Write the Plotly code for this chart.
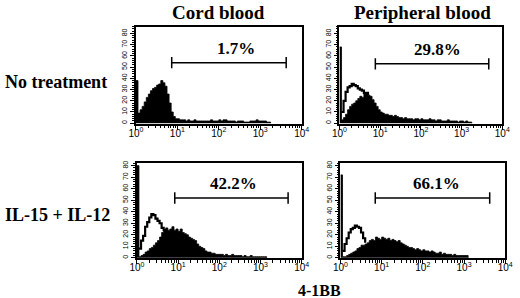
import plotly.graph_objects as go

# ---------------- data (counts per channel, 20 channels per decade, starting at 10^0) ----------
cb_none_filled = [38, 9, 12, 15, 19, 23, 26, 29, 31, 32, 34, 35, 38, 36, 33, 26, 18, 10, 6, 4,
                  4, 3, 3, 3, 2, 3, 2, 2, 3, 2, 2, 2, 2, 2, 2, 2, 3, 2, 2, 2,
                  3, 2, 3, 3, 2, 2, 2, 2, 1, 2, 2, 2, 1, 1, 1, 2, 2, 2, 3, 2,
                  2, 2, 2, 1, 1, 0]

pb_none_filled = [68, 3, 5, 8, 12, 15, 17, 18, 20, 22, 24, 23, 26, 27, 25, 24, 21, 18, 15, 12,
                  10, 9, 8, 8, 7, 7, 6, 7, 6, 5, 5, 4, 5, 4, 4, 4, 3, 4, 4, 3,
                  4, 3, 3, 3, 4, 3, 3, 2, 3, 3, 2, 2, 2, 3, 2, 2, 2, 2, 1, 2,
                  2, 1, 2, 1, 1, 0]
pb_none_open = [None, 10, 20, 28, 32, 33, 35, 34, 33, 31, 30, 29, 27, 27, 25]

cb_il_filled = [80, 1, 2, 3, 5, 6, 8, 9, 11, 13, 15, 18, 22, 24, 26, 24, 25, 27, 24, 25,
                23, 25, 22, 21, 20, 18, 17, 16, 15, 12, 10, 9, 8, 6, 5, 5, 4, 4, 3, 3,
                3, 3, 2, 3, 2, 2, 3, 2, 2, 2, 2, 1, 2, 1, 1, 2, 1, 1, 1, 1,
                1, 1, 1, 0]
cb_il_open = [None, 8, 15, 19, 27, 31, 35, 38, 37, 34, 32, 30, 26, 24, 22]

pb_il_filled = [72, 1, 1, 2, 3, 4, 5, 6, 8, 9, 11, 11, 12, 13, 15, 16, 15, 18, 17, 16,
                18, 17, 16, 17, 15, 16, 15, 14, 15, 13, 12, 11, 10, 9, 9, 8, 7, 8, 7, 6,
                7, 6, 6, 5, 6, 5, 4, 4, 5, 3, 4, 3, 3, 3, 2, 3, 2, 2, 2, 2,
                2, 2, 0]
pb_il_open = [None, 6, 12, 17, 22, 25, 26, 28, 27, 26, 22, 17, 13]

CH_PER_DECADE = 20

gate_lo = [7.3, 7.6, 8.3, 7.0]
gate_hi = [4230, 4650, 4680, 4200]
gate_y = [54, 53, 52, 52]
gate_pct = ["1.7%", "29.8%", "42.2%", "66.1%"]
gate_label_x = [2.42, 2.40, 2.35, 2.33]   # log10 position of label centre

col_titles = ["Cord blood", "Peripheral blood"]
row_titles = ["No treatment", "IL-15 + IL-12"]
x_title = "4-1BB"
x_tickvals = [1, 10, 100, 1000, 10000]
x_ticktext = ["10<sup>0</sup>", "10<sup>1</sup>", "10<sup>2</sup>", "10<sup>3</sup>", "10<sup>4</sup>"]
x_minor = [m * 10 ** d for d in range(4) for m in range(2, 10)]
y_tickvals = [0, 10, 20, 30, 40, 50, 60, 70, 80]

panels = [
    (cb_none_filled, None),
    (pb_none_filled, pb_none_open),
    (cb_il_filled, cb_il_open),
    (pb_il_filled, pb_il_open),
]

W, H = 520, 298
# pixel boxes: (left, right, top, bottom)
boxes = [(132, 303, 24, 122), (342, 510, 24, 122), (133, 303, 162, 258), (343, 513, 162, 258)]
yranges = [[-0.5, 86], [-0.5, 86], [-0.5, 82], [-0.5, 82]]

fig = go.Figure()
SERIF = "Liberation Serif, Times New Roman, serif"
SANS = "Liberation Sans, Arial, sans-serif"

for k, (filled, opn) in enumerate(panels):
    xs = "x" if k == 0 else f"x{k+1}"
    ys = "y" if k == 0 else f"y{k+1}"
    xv = [10 ** (i / CH_PER_DECADE) for i in range(len(filled))]
    fig.add_trace(go.Scatter(x=xv, y=filled, mode="lines", line=dict(color="black", width=0.8, shape="hv"),
                             fill="tozeroy", fillcolor="black", xaxis=xs, yaxis=ys, showlegend=False,
                             hoverinfo="skip"))
    if opn is not None:
        xo = [10 ** (i / CH_PER_DECADE) for i in range(len(opn))]
        fig.add_trace(go.Scatter(x=xo, y=opn, mode="lines", line=dict(color="black", width=2.2, shape="hv"),
                                 xaxis=xs, yaxis=ys, showlegend=False, hoverinfo="skip"))
    # gate bar
    lo, hi, gy = gate_lo[k], gate_hi[k], gate_y[k]
    cap = 5
    fig.add_trace(go.Scatter(x=[lo, hi, None, lo, lo, None, hi, hi],
                             y=[gy, gy, None, gy - cap, gy + cap, None, gy - cap, gy + cap],
                             mode="lines", line=dict(color="black", width=1.5), xaxis=xs, yaxis=ys,
                             showlegend=False, hoverinfo="skip"))
    fig.add_annotation(x=gate_label_x[k], y=gy + 2.5, xref=xs, yref=ys, text=f"<b>{gate_pct[k]}</b>",
                       showarrow=False, yanchor="bottom", font=dict(family=SERIF, size=17, color="black"))

    l, r, t, b = boxes[k]
    xkey = "xaxis" if k == 0 else f"xaxis{k+1}"
    ykey = "yaxis" if k == 0 else f"yaxis{k+1}"
    fig.update_layout(**{
        xkey: dict(domain=[l / W, r / W], anchor=ys, type="log", range=[0, 4],
                   tickvals=x_tickvals, ticktext=x_ticktext, ticks="outside", ticklen=4, tickwidth=1,
                   tickcolor="black", showline=True, linecolor="black", linewidth=1.5, mirror=True,
                   showgrid=False, zeroline=False, ticklabelstandoff=-5,
                   tickfont=dict(family=SANS, size=10, color="black"),
                   minor=dict(tickvals=x_minor, ticks="outside", ticklen=2.5, tickwidth=1, tickcolor="black",
                              showgrid=False)),
        ykey: dict(domain=[(H - b) / H, (H - t) / H], anchor=xs, range=yranges[k],
                   tickvals=y_tickvals, ticks="outside", ticklen=4, tickwidth=1, tickcolor="black",
                   tickangle=-90, showline=True, linecolor="black", linewidth=1.5, mirror=True,
                   showgrid=False, zeroline=False,
                   tickfont=dict(family=SANS, size=7, color="black"),
                   minor=dict(dtick=2, ticks="outside", ticklen=2, tickwidth=0.8, tickcolor="black",
                              showgrid=False)),
    })

# column titles
for cx, txt in zip([217.5, 428], col_titles):
    fig.add_annotation(x=cx / W, y=1 - 9.5 / H, xref="paper", yref="paper", text=f"<b>{txt}</b>",
                       showarrow=False, xanchor="center", yanchor="middle",
                       font=dict(family=SERIF, size=19, color="black"))
# row titles
for cy, txt in zip([80, 214], row_titles):
    fig.add_annotation(x=0, y=1 - cy / H, xref="paper", yref="paper", text=f"<b>{txt}</b>",
                       showarrow=False, xanchor="left", yanchor="middle", xshift=-5,
                       font=dict(family=SERIF, size=18, color="black"))
fig.add_annotation(x=321.5 / W, y=1 - 290 / H, xref="paper", yref="paper", text=f"<b>{x_title}</b>",
                   showarrow=False, xanchor="center", yanchor="middle",
                   font=dict(family=SERIF, size=16, color="black"))

fig.update_layout(width=W, height=H, margin=dict(l=0, r=0, t=0, b=0),
                  paper_bgcolor="white", plot_bgcolor="white")
fig.write_html("out.html", config={"displayModeBar": False},
               post_script="document.body.style.margin='0';document.body.style.padding='0';")
